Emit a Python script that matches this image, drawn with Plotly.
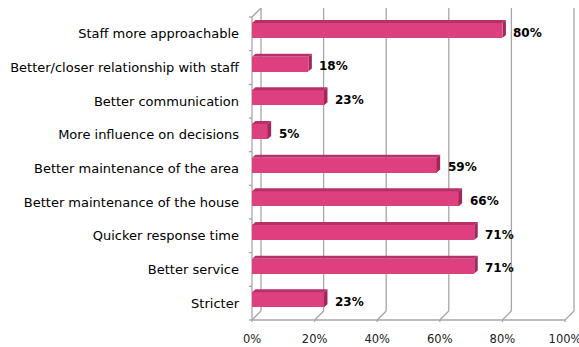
import plotly.graph_objects as go

# Survey results: share of respondents citing each improvement
categories = [
    "Staff more approachable",
    "Better/closer relationship with staff",
    "Better communication",
    "More influence on decisions",
    "Better maintenance of the area",
    "Better maintenance of the house",
    "Quicker response time",
    "Better service",
    "Stricter",
]
values = [80, 18, 23, 5, 59, 66, 71, 71, 23]
tick_values = [0, 20, 40, 60, 80, 100]
tick_labels = ["0%", "20%", "40%", "60%", "80%", "100%"]

# Pixel scale of the front plane (used to size the pseudo-3D offsets)
PX_PER_PCT = 3.13
PX_PER_CAT = 33.67

# Depth of the back wall and of each bar, in data units
WALL_DX = 9 / PX_PER_PCT
WALL_DY = 9 / PX_PER_CAT
BAR_DX = 3.5 / PX_PER_PCT
BAR_DY = 3.0 / PX_PER_CAT

BAR_W = 0.445
BAR_SHIFT = -0.1          # bars sit slightly behind the front plane

FRONT = "#DE3F7E"
TOP = "#B83068"
SIDE = "#A3265A"
GRID = "#A6A6A6"

n = len(categories)
idx = list(range(n))

fig = go.Figure()

fig.add_trace(go.Bar(
    orientation="h",
    x=values,
    y=idx,
    width=BAR_W,
    offset=BAR_SHIFT - BAR_W / 2,
    marker=dict(color=FRONT, line=dict(width=0)),
    hoverinfo="skip",
    showlegend=False,
))

shapes = []


def line(x0, y0, x1, y1, width=1.3, color=GRID):
    shapes.append(dict(type="line", xref="x", yref="y", x0=x0, y0=y0,
                       x1=x1, y1=y1, line=dict(color=color, width=width),
                       layer="below"))


# Back wall gridlines and their slanted floor connectors
y_top, y_bot = -0.5, n - 0.5
for t in tick_values:
    line(t + WALL_DX, y_top - WALL_DY, t + WALL_DX, y_bot - WALL_DY)
    line(t, y_bot, t + WALL_DX, y_bot - WALL_DY)
# Top-left corner of the side wall
line(0, y_top, WALL_DX, y_top - WALL_DY)
# Front axes
line(0, y_bot, 100, y_bot)
line(0, y_top, 0, y_bot)
# Category tick marks on the category axis
for k in range(n + 1):
    line(-1.0, k - 0.5, 0, k - 0.5)
# Value tick marks on the front axis
for t in tick_values:
    line(t, y_bot, t, y_bot + 0.06)

# Top and side faces of every bar
for i, v in enumerate(values):
    top = i + BAR_SHIFT - BAR_W / 2
    bot = i + BAR_SHIFT + BAR_W / 2
    shapes.append(dict(
        type="path", xref="x", yref="y", layer="above",
        path=f"M 0,{top} L {v},{top} L {v + BAR_DX},{top - BAR_DY} "
             f"L {BAR_DX},{top - BAR_DY} Z",
        fillcolor=TOP, line=dict(width=0)))
    shapes.append(dict(
        type="path", xref="x", yref="y", layer="above",
        path=f"M {v},{top} L {v},{bot} L {v + BAR_DX},{bot - BAR_DY} "
             f"L {v + BAR_DX},{top - BAR_DY} Z",
        fillcolor=SIDE, line=dict(width=0)))

# Value labels
annotations = [
    dict(x=v, y=i - 0.03, xref="x", yref="y", text=f"<b>{v}%</b>",
         showarrow=False, xanchor="left", yanchor="middle", xshift=9,
         font=dict(family="DejaVu Sans", size=12, color="black"))
    for i, v in enumerate(values)
]

fig.update_layout(
    width=579,
    height=347,
    margin=dict(l=246, r=2, t=8, b=23, autoexpand=False),
    paper_bgcolor="white",
    plot_bgcolor="white",
    font=dict(family="DejaVu Sans", size=12, color="black"),
    shapes=shapes,
    annotations=annotations,
    bargap=0,
    xaxis=dict(
        range=[(246 - 252) / PX_PER_PCT, (577 - 252) / PX_PER_PCT],
        tickvals=tick_values,
        ticktext=tick_labels,
        showgrid=False, zeroline=False, showline=False, ticks="",
        ticklabelstandoff=6,
        ticklabeloverflow="allow",
        automargin=False,
        tickfont=dict(size=11.5, color="#222222"),
        fixedrange=True,
    ),
    yaxis=dict(
        range=[y_bot + 4 / PX_PER_CAT, y_top - 9 / PX_PER_CAT],
        tickvals=idx,
        ticktext=categories,
        showgrid=False, zeroline=False, showline=False, ticks="",
        ticklabelstandoff=6,
        automargin=False,
        tickfont=dict(size=13, color="black"),
        fixedrange=True,
    ),
)

fig.write_html("out.html")
